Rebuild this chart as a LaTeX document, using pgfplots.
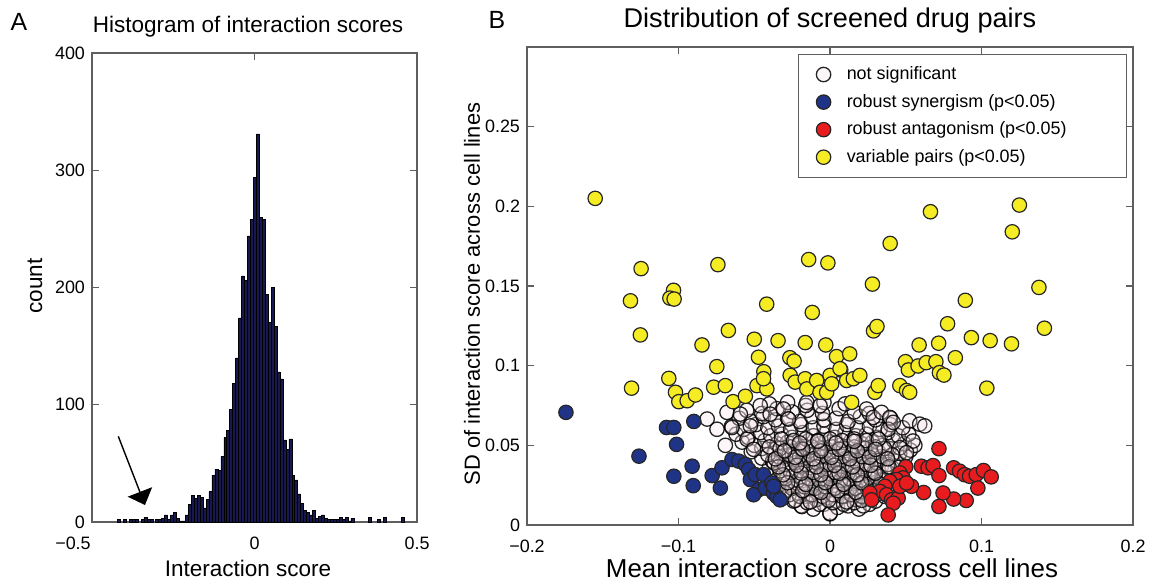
\documentclass[border=0pt]{standalone}
\usepackage{fontspec}
\setmainfont{Liberation Sans}
\usepackage{pgfplots}
\pgfplotsset{compat=1.18}
\usetikzlibrary{arrows.meta}

\definecolor{histfill}{RGB}{24,24,78}
\definecolor{axgray}{RGB}{95,95,95}
\definecolor{nsfill}{RGB}{245,226,231}
\definecolor{synblue}{RGB}{32,52,135}
\definecolor{antred}{RGB}{232,28,30}
\definecolor{varyel}{RGB}{246,236,36}

\pgfplotsset{
  matlab/.style={
    scale only axis,
    axis line style={axgray, line width=0.6bp},
    tick style={axgray, line width=0.6bp},
    tick align=inside,
    major tick length=3.5bp,
    ticklabel style={font=\fontsize{9}{10}\selectfont},
    xticklabel style={yshift=-4bp},
  },
  dot/.style={only marks, mark=*, mark size=3.6bp},
}

\begin{document}
\begin{tikzpicture}[x=1bp,y=1bp]
\path[use as bounding box] (0,0) rectangle (574.5,290);

% panel letters, titles, labels
\node[font=\fontsize{12.5}{14}\selectfont] at (9.5,279) {A};
\node[font=\fontsize{12.5}{14}\selectfont] at (248.5,280) {B};
\node[font=\fontsize{11.3}{13}\selectfont] at (124,276.5) {Histogram of interaction scores};
\node[font=\fontsize{13.6}{16}\selectfont] at (415,280) {Distribution of screened drug pairs};
\node[font=\fontsize{11.3}{13}\selectfont, rotate=90] at (17.5,147) {count};
\node[font=\fontsize{11.3}{13}\selectfont] at (124,6) {Interaction score};
\node[font=\fontsize{11}{13}\selectfont, rotate=90] at (236,143) {SD of interaction score across cell lines};
\node[font=\fontsize{13}{15}\selectfont] at (416,6) {Mean interaction score across cell lines};

% A: histogram
\begin{axis}[matlab,
  at={(46bp,29bp)}, anchor=south west,
  width=162.5bp, height=234.5bp,
  xmin=-0.5, xmax=0.5, ymin=0, ymax=400,
  xtick={-0.5,0,0.5}, xticklabels={\makebox[0pt]{\hspace*{-19bp}−0.5},0,0.5},
  ytick={0,100,200,300,400}, yticklabels={0,100,200,300,400},
]
\addplot[ybar, bar width=0.0091, fill=histfill, draw=black, line width=0.25bp] coordinates {
(-0.4177,2) (-0.3995,2) (-0.3813,2) (-0.3722,2) (-0.3631,2)
(-0.3449,2) (-0.3358,4) (-0.3267,2) (-0.3176,2)
(-0.2994,2) (-0.2903,2) (-0.2812,3) (-0.2721,6) (-0.2630,2)
(-0.2539,6) (-0.2448,8) (-0.2357,3) (-0.2266,1) (-0.2175,1)
(-0.2084,6) (-0.1993,15) (-0.1902,23) (-0.1811,20) (-0.1720,23)
(-0.1629,21) (-0.1538,12) (-0.1447,19) (-0.1356,26) (-0.1265,40)
(-0.1174,45) (-0.1083,44) (-0.0992,56) (-0.0901,72) (-0.0810,78)
(-0.0719,96) (-0.0628,118) (-0.0537,140) (-0.0446,174) (-0.0355,210)
(-0.0264,206) (-0.0173,244) (-0.0082,258) (0.0009,294) (0.0100,331)
(0.0191,260) (0.0282,258) (0.0373,194) (0.0464,170) (0.0555,200)
(0.0646,167) (0.0737,128) (0.0828,122) (0.0919,70) (0.1010,62)
(0.1101,71) (0.1192,40) (0.1283,36) (0.1374,24) (0.1465,16)
(0.1556,10) (0.1647,8) (0.1738,6) (0.1829,10) (0.1920,3)
(0.2011,5) (0.2102,6) (0.2193,3) (0.2284,2) (0.2375,2)
(0.2466,2) (0.2557,2) (0.2648,4) (0.2739,2) (0.2830,4)
(0.2921,1) (0.3012,3) (0.3558,4) (0.3831,2) (0.4013,4) (0.4559,4)
};
\draw[-{Triangle[length=7bp,width=13bp]}, line width=0.7bp, black]
  (axis cs:-0.419,73) -- (axis cs:-0.337,14.5);
\end{axis}

% B: scatter
\begin{axis}[matlab,
  at={(263.5bp,27.5bp)}, anchor=south west,
  width=303bp, height=239bp,
  xmin=-0.2, xmax=0.2, ymin=0, ymax=0.3,
  xtick={-0.2,-0.1,0,0.1,0.2}, xticklabels={−0.2,−0.1,0,0.1,0.2},
  ytick={0,0.05,0.1,0.15,0.2,0.25}, yticklabels={0,0.05,0.1,0.15,0.2,0.25},
  legend style={at={(0.990,0.985)}, anchor=north east, draw=axgray,
    font=\fontsize{9}{10}\selectfont, inner xsep=9bp, inner ysep=4bp,
    row sep=1.8bp, /tikz/every odd column/.append style={column sep=6bp}},
  legend cell align=left,
]
\addplot[dot, mark options={fill=nsfill, fill opacity=0.3, draw=black, draw opacity=0.85, line width=0.65bp}] coordinates {
(-0.019,0.012) (-0.011,0.010) (-0.004,0.013) (0.000,0.007) (0.005,0.011) (0.012,0.012) (0.019,0.010) (0.026,0.013)
(-0.031,0.017) (-0.024,0.015) (-0.016,0.018) (-0.009,0.016) (-0.002,0.017) (0.004,0.015) (0.010,0.018) (0.017,0.016) (0.023,0.017) (0.030,0.015) (0.036,0.018)
(-0.036,0.021) (-0.029,0.022) (-0.021,0.020) (-0.014,0.023) (-0.007,0.021) (0.000,0.022) (0.006,0.020) (0.013,0.023) (0.020,0.021) (0.027,0.022) (0.033,0.020) (0.039,0.023)
(-0.033,0.027) (-0.026,0.025) (-0.018,0.028) (-0.011,0.026) (-0.004,0.027) (0.003,0.025) (0.009,0.028) (0.016,0.026) (0.022,0.027) (0.029,0.025) (0.035,0.028) (0.042,0.026)
(-0.037,0.032) (-0.030,0.030) (-0.022,0.031) (-0.015,0.033) (-0.008,0.030) (-0.001,0.032) (0.005,0.031) (0.012,0.033) (0.019,0.030) (0.025,0.032) (0.032,0.031) (0.038,0.033) (0.044,0.030)
(-0.040,0.036) (-0.034,0.038) (-0.027,0.035) (-0.020,0.037) (-0.013,0.036) (-0.006,0.038) (0.001,0.035) (0.008,0.037) (0.014,0.036) (0.021,0.038) (0.027,0.035) (0.034,0.037) (0.041,0.036) (0.047,0.038)
(-0.045,0.042) (-0.038,0.040) (-0.031,0.043) (-0.024,0.041) (-0.017,0.042) (-0.010,0.040) (-0.003,0.043) (0.004,0.041) (0.011,0.042) (0.017,0.040) (0.024,0.043) (0.031,0.041) (0.037,0.042) (0.044,0.040) (0.050,0.043)
(-0.052,0.046) (-0.045,0.048) (-0.037,0.045) (-0.030,0.047) (-0.023,0.046) (-0.016,0.048) (-0.009,0.045) (-0.002,0.047) (0.005,0.046) (0.012,0.048) (0.019,0.045) (0.026,0.047) (0.032,0.046) (0.039,0.048) (0.046,0.045) (0.053,0.047)
(-0.058,0.052) (-0.050,0.050) (-0.043,0.053) (-0.035,0.051) (-0.028,0.052) (-0.021,0.050) (-0.014,0.053) (-0.007,0.051) (0.000,0.052) (0.007,0.050) (0.014,0.053) (0.021,0.051) (0.028,0.052) (0.035,0.050) (0.042,0.053) (0.049,0.051) (0.056,0.050)
(-0.062,0.057) (-0.054,0.055) (-0.046,0.058) (-0.039,0.056) (-0.032,0.057) (-0.025,0.055) (-0.018,0.058) (-0.011,0.056) (-0.004,0.057) (0.003,0.055) (0.010,0.058) (0.017,0.056) (0.024,0.057) (0.031,0.055) (0.038,0.058) (0.045,0.056) (0.052,0.057)
(-0.065,0.062) (-0.057,0.060) (-0.049,0.063) (-0.041,0.061) (-0.034,0.062) (-0.026,0.060) (-0.019,0.063) (-0.011,0.061) (-0.004,0.062) (0.004,0.060) (0.011,0.063) (0.018,0.061) (0.026,0.062) (0.033,0.060) (0.040,0.063) (0.048,0.061)
(-0.060,0.067) (-0.052,0.065) (-0.044,0.068) (-0.036,0.066) (-0.028,0.067) (-0.020,0.065) (-0.012,0.068) (-0.004,0.066) (0.004,0.067) (0.012,0.065) (0.020,0.068) (0.030,0.066) (0.040,0.067)
(-0.055,0.072) (-0.045,0.070) (-0.035,0.073) (-0.025,0.071) (-0.015,0.072) (-0.005,0.070) (0.006,0.073) (0.016,0.071) (0.026,0.070)
(-0.040,0.076) (-0.028,0.077) (-0.016,0.075) (-0.004,0.077) (0.010,0.076)
(-0.0811,0.0665) (-0.0746,0.0601) (-0.0680,0.0707) (-0.0647,0.0612) (-0.0691,0.0500)
(-0.0592,0.0696) (-0.0526,0.0622) (-0.0461,0.0749) (-0.0395,0.0696) (-0.0307,0.0728)
(-0.0274,0.0665) (-0.0548,0.0538) (-0.0504,0.0475) (-0.0153,0.0770) (-0.0066,0.0749)
(0.0241,0.0728) (0.0285,0.0675) (0.0340,0.0707) (0.0395,0.0675) (0.0384,0.0601)
(0.0417,0.0644) (0.0526,0.0654) (0.0592,0.0633) (0.0625,0.0622) (0.0548,0.0527)
(0.0461,0.0485) (0.0505,0.0454) (0.0000,0.0074) (-0.0186,0.0116)
(-0.015,0.014) (-0.007,0.013) (0.002,0.014) (0.009,0.013) (0.016,0.014) (0.022,0.012)
(-0.027,0.019) (-0.020,0.018) (-0.012,0.019) (-0.005,0.018) (0.002,0.019) (0.008,0.018) (0.014,0.019) (0.021,0.018) (0.027,0.019)
(-0.032,0.024) (-0.025,0.023) (-0.017,0.024) (-0.010,0.023) (-0.003,0.024) (0.003,0.023) (0.010,0.024) (0.017,0.023) (0.024,0.024) (0.031,0.023)
(-0.029,0.029) (-0.021,0.028) (-0.014,0.029) (-0.007,0.028) (0.000,0.029) (0.007,0.028) (0.013,0.029) (0.020,0.028) (0.027,0.029) (0.034,0.028)
(-0.033,0.034) (-0.026,0.033) (-0.019,0.034) (-0.011,0.033) (-0.004,0.034) (0.003,0.033) (0.009,0.034) (0.016,0.033) (0.023,0.034) (0.029,0.033) (0.036,0.034)
(-0.037,0.039) (-0.030,0.038) (-0.023,0.039) (-0.016,0.038) (-0.009,0.039) (-0.002,0.038) (0.005,0.039) (0.011,0.038) (0.018,0.039) (0.024,0.038) (0.031,0.039) (0.038,0.038)
(-0.041,0.044) (-0.034,0.043) (-0.027,0.044) (-0.020,0.043) (-0.013,0.044) (-0.006,0.043) (0.001,0.044) (0.008,0.043) (0.014,0.044) (0.021,0.043) (0.028,0.044) (0.034,0.043) (0.041,0.044)
(-0.040,0.049) (-0.033,0.048) (-0.026,0.049) (-0.019,0.048) (-0.012,0.049) (-0.005,0.048) (0.002,0.049) (0.009,0.048) (0.016,0.049) (0.023,0.048) (0.030,0.049) (0.036,0.048)
(-0.032,0.054) (-0.024,0.053) (-0.016,0.054) (-0.008,0.053) (0.000,0.054) (0.008,0.053) (0.016,0.054) (0.024,0.053) (0.032,0.054)
(-0.023,0.0155) (-0.013,0.0145) (-0.001,0.0155) (0.011,0.0145) (0.021,0.0155)
(-0.030,0.0205) (-0.018,0.0215) (-0.006,0.0205) (0.005,0.0215) (0.017,0.0205) (0.029,0.0215)
(-0.028,0.0265) (-0.016,0.0255) (-0.003,0.0265) (0.009,0.0255) (0.021,0.0265) (0.033,0.0255)
(-0.031,0.0315) (-0.019,0.0325) (-0.006,0.0315) (0.006,0.0325) (0.018,0.0315) (0.030,0.0325)
(-0.034,0.0365) (-0.022,0.0375) (-0.009,0.0365) (0.003,0.0375) (0.015,0.0365) (0.027,0.0375) (0.039,0.0365)
(-0.036,0.0415) (-0.023,0.0425) (-0.011,0.0415) (0.001,0.0425) (0.013,0.0415) (0.026,0.0425) (0.038,0.0415)
(-0.030,0.0465) (-0.018,0.0475) (-0.006,0.0465) (0.006,0.0475) (0.018,0.0465) (0.030,0.0475)
(-0.020,0.0515) (-0.008,0.0525) (0.004,0.0515) (0.016,0.0525)
};
\addlegendentry{not significant}
\addplot[dot, mark options={fill=synblue, draw=black!85, line width=0.6bp}] coordinates {
(-0.1743,0.0707) (-0.1079,0.0612) (-0.1031,0.0612) (-0.0899,0.0650) (-0.1013,0.0506)
(-0.1261,0.0432) (-0.1031,0.0306) (-0.0910,0.0369) (-0.0903,0.0247) (-0.0778,0.0310)
(-0.0724,0.0232) (-0.0713,0.0359) (-0.0647,0.0411) (-0.0603,0.0401) (-0.0559,0.0380)
(-0.0537,0.0348) (-0.0526,0.0285) (-0.0493,0.0316) (-0.0471,0.0222) (-0.0504,0.0190)
(-0.0439,0.0316) (-0.0428,0.0232) (-0.0384,0.0264) (-0.0373,0.0200) (-0.0351,0.0179)
(-0.0329,0.0158) (-0.0373,0.0243)
};
\addlegendentry{robust synergism (p<0.05)}
\addplot[dot, mark options={fill=antred, draw=black!85, line width=0.6bp}] coordinates {
(0.0719,0.0479) (0.0603,0.0369) (0.0647,0.0359) (0.0680,0.0373) (0.0719,0.0310)
(0.0816,0.0359) (0.0855,0.0338) (0.0888,0.0316) (0.0921,0.0306) (0.0965,0.0316)
(0.1013,0.0342) (0.1064,0.0302) (0.0976,0.0232) (0.0899,0.0154) (0.0816,0.0163)
(0.0746,0.0201) (0.0719,0.0116) (0.0618,0.0204) (0.0500,0.0365) (0.0461,0.0327)
(0.0482,0.0296) (0.0538,0.0243) (0.0439,0.0285) (0.0395,0.0274) (0.0362,0.0243)
(0.0329,0.0211) (0.0263,0.0201) (0.0274,0.0158) (0.0373,0.0190) (0.0406,0.0158)
(0.0450,0.0169) (0.0417,0.0137) (0.0384,0.0063) (0.0461,0.0243) (0.0505,0.0264)
};
\addlegendentry{robust antagonism (p<0.05)\hspace*{19bp}}
\addplot[dot, mark options={fill=varyel, draw=black!85, line width=0.6bp}] coordinates {
(-0.1550,0.2050) (-0.1247,0.1609) (-0.1317,0.1407) (-0.1033,0.1473) (-0.1057,0.1424)
(-0.1029,0.1418) (-0.0740,0.1634) (-0.1252,0.1193) (-0.0418,0.1386) (-0.0141,0.1666)
(-0.0014,0.1645) (0.0280,0.1512) (0.0397,0.1767) (0.0663,0.1966) (0.1250,0.2008)
(0.1203,0.1840) (0.1379,0.1491) (0.1415,0.1235) (0.0893,0.1410) (-0.0117,0.1334)
(-0.0671,0.1221) (-0.0845,0.1130) (-0.0500,0.1166) (-0.0343,0.1157) (-0.0164,0.1145)
(-0.0028,0.1130) (-0.0472,0.1053) (-0.0265,0.1050) (-0.0237,0.1029) (0.0043,0.1057)
(0.0130,0.1074) (0.0287,0.1218) (0.0310,0.1246) (0.0776,0.1263) (0.0588,0.1130)
(0.0717,0.1141) (0.0933,0.1176) (0.1057,0.1157) (0.1198,0.1137) (0.0827,0.1050)
(0.0498,0.1025) (0.0517,0.0973) (0.0581,0.0998) (0.0635,0.1019) (0.0699,0.1025)
(0.0722,0.0956) (0.0752,0.0941) (-0.0747,0.0994) (-0.1064,0.0920) (-0.0437,0.0962)
(0.0071,0.0973)
(-0.1310,0.0859) (-0.1020,0.0833) (-0.0998,0.0774) (-0.0943,0.0780) (-0.0888,0.0816)
(-0.0768,0.0865) (-0.0691,0.0875) (-0.0640,0.0774) (-0.0559,0.0808) (-0.0482,0.0875)
(-0.0417,0.0854) (-0.0439,0.0918) (-0.0263,0.0939) (-0.0230,0.0897) (-0.0164,0.0918)
(-0.0153,0.0854) (-0.0088,0.0907) (-0.0066,0.0833) (-0.0022,0.0833) (0.0000,0.0939)
(0.0066,0.0981) (0.0110,0.0907) (0.0154,0.0918) (0.0143,0.0770) (0.0011,0.0886)
(0.0197,0.0939) (0.0296,0.0833) (0.0318,0.0875) (0.0461,0.0875) (0.0505,0.0844)
(0.0526,0.0833) (0.1035,0.0859)
};
\addlegendentry{variable pairs (p<0.05)}
\end{axis}
\end{tikzpicture}
\end{document}
